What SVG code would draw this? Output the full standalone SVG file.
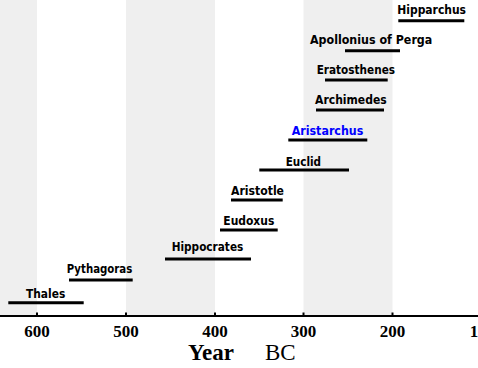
<svg xmlns="http://www.w3.org/2000/svg" width="478" height="368" viewBox="0 0 478 368">
<style>
.lbl{font-family:"DejaVu Sans Condensed","DejaVu Sans",sans-serif;font-weight:bold;font-size:12px;fill:#000}
.bar{stroke:#000;stroke-width:3}
.tick{font-family:"Liberation Serif","Times New Roman",serif;font-weight:bold;font-size:17px;text-anchor:middle}
.stripe{fill:#efefef}
</style>
<rect width="478" height="368" fill="#fff"/>
<g id="background">
<rect class="stripe" x="0" y="0" width="37" height="315"/>
<rect class="stripe" x="126" y="0" width="89" height="315"/>
<rect class="stripe" x="303.5" y="0" width="89" height="315"/>
</g>
<g id="axis">
<line x1="0" y1="316" x2="478" y2="316" stroke="#000" stroke-width="2"/>
<g stroke="#000" stroke-width="2">
<line x1="37" y1="312.5" x2="37" y2="316"/>
<line x1="126" y1="312.5" x2="126" y2="316"/>
<line x1="215" y1="312.5" x2="215" y2="316"/>
<line x1="303.5" y1="312.5" x2="303.5" y2="316"/>
<line x1="392.5" y1="312.5" x2="392.5" y2="316"/>
</g>
<text class="tick" x="37" y="336.5">600</text>
<text class="tick" x="126" y="336.5">500</text>
<text class="tick" x="215" y="336.5">400</text>
<text class="tick" x="303.5" y="336.5">300</text>
<text class="tick" x="392.5" y="336.5">200</text>
<text class="tick" x="474" y="336.5">1</text>
<text x="188" y="360" font-family="'Liberation Serif','Times New Roman',serif" font-weight="bold" font-size="23">Year</text>
<text x="265" y="360" font-family="'Liberation Serif','Times New Roman',serif" font-size="23">BC</text>
</g>
<g id="connectors">
<line class="bar" x1="398.3" y1="20.7" x2="464.3" y2="20.7"/>
<line class="bar" x1="345" y1="50.7" x2="400" y2="50.7"/>
<line class="bar" x1="325" y1="80" x2="387.7" y2="80"/>
<line class="bar" x1="316" y1="110" x2="384" y2="110"/>
<line class="bar" x1="288.3" y1="140" x2="367.3" y2="140"/>
<line class="bar" x1="259.3" y1="170" x2="349" y2="170"/>
<line class="bar" x1="231" y1="200" x2="282.7" y2="200"/>
<line class="bar" x1="220" y1="230" x2="277.7" y2="230"/>
<line class="bar" x1="165" y1="259" x2="251" y2="259"/>
<line class="bar" x1="69" y1="280" x2="132.7" y2="280"/>
<line class="bar" x1="8.3" y1="302.7" x2="83.7" y2="302.7"/>
</g>
<g id="hipparchus"><text class="lbl" x="397.3" y="13.5" textLength="68.7" lengthAdjust="spacingAndGlyphs">Hipparchus</text></g>
<g id="apollonius"><text class="lbl" x="310" y="44.3" textLength="122.3" lengthAdjust="spacingAndGlyphs">Apollonius of Perga</text></g>
<g id="eratosthenes"><text class="lbl" x="316.7" y="74" textLength="78.3" lengthAdjust="spacingAndGlyphs">Eratosthenes</text></g>
<g id="archimedes"><text class="lbl" x="315" y="104" textLength="71.7" lengthAdjust="spacingAndGlyphs">Archimedes</text></g>
<g id="aristarchus"><text class="lbl" x="291.7" y="135" textLength="71.6" lengthAdjust="spacingAndGlyphs" style="fill:#0000ff">Aristarchus</text></g>
<g id="euclid"><text class="lbl" x="285.7" y="165.7" textLength="35.3" lengthAdjust="spacingAndGlyphs">Euclid</text></g>
<g id="aristotle"><text class="lbl" x="231" y="195" textLength="53" lengthAdjust="spacingAndGlyphs">Aristotle</text></g>
<g id="eudoxus"><text class="lbl" x="223.3" y="225" textLength="51" lengthAdjust="spacingAndGlyphs">Eudoxus</text></g>
<g id="hippocrates"><text class="lbl" x="171.7" y="251" textLength="71.6" lengthAdjust="spacingAndGlyphs">Hippocrates</text></g>
<g id="pythagoras"><text class="lbl" x="66.7" y="272.7" textLength="65.6" lengthAdjust="spacingAndGlyphs">Pythagoras</text></g>
<g id="thales"><text class="lbl" x="26" y="297.7" textLength="39.3" lengthAdjust="spacingAndGlyphs">Thales</text></g>
</svg>
